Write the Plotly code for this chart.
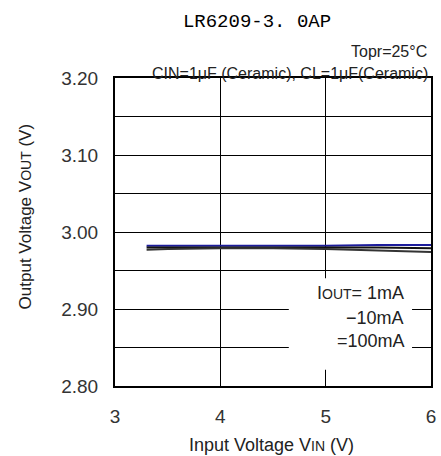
import plotly.graph_objects as go

vin = [3.3, 3.5, 4.0, 4.5, 5.0, 5.5, 6.0]
vout_1ma = [2.982, 2.982, 2.982, 2.982, 2.982, 2.983, 2.983]
vout_10ma = [2.980, 2.980, 2.980, 2.980, 2.980, 2.980, 2.979]
vout_100ma = [2.977, 2.978, 2.979, 2.979, 2.978, 2.976, 2.974]

series = [
    ("1mA", vout_1ma, "#1c1c9c"),
    ("10mA", vout_10ma, "#111111"),
    ("100mA", vout_100ma, "#333333"),
]

fig = go.Figure()
for name, ys, col in series:
    fig.add_trace(go.Scatter(x=vin, y=ys, mode="lines", name=name,
                             line=dict(color=col, width=2), showlegend=False))

sans = "Liberation Sans, Arial, sans-serif"

fig.update_layout(
    width=441, height=456,
    margin=dict(l=115, r=5, t=78, b=70),
    paper_bgcolor="white", plot_bgcolor="white",
    font=dict(family=sans, color="#222222", size=18),
    title=dict(text="LR6209-3. 0AP", x=257 / 441, xanchor="center", y=1 - 20 / 456, yanchor="middle",
               xref="container", yref="container",
               font=dict(family="Liberation Mono, DejaVu Sans Mono, monospace", size=19, color="#000000")),
)

fig.update_xaxes(range=[3, 6], tickvals=[3, 4, 5, 6],
                 showgrid=True, gridcolor="black", gridwidth=1,
                 showline=True, linecolor="black", linewidth=2, mirror=True,
                 zeroline=False, ticks="", ticklabelstandoff=12,
                 tickfont=dict(size=19, color="#333333"))
fig.update_yaxes(range=[2.80, 3.20], tickvals=[2.80, 2.90, 3.00, 3.10, 3.20], tickformat=".2f",
                 showgrid=True, gridcolor="black", gridwidth=1,
                 minor=dict(dtick=0.05, tick0=2.80, showgrid=True, gridcolor="black", gridwidth=1),
                 showline=True, linecolor="black", linewidth=2, mirror=True,
                 zeroline=False, ticks="", ticklabelstandoff=11,
                 tickfont=dict(size=19, color="#333333"))

# white box behind the legend text
fig.add_shape(type="rect", xref="x", yref="y", x0=4.65, x1=5.82, y0=2.821, y1=2.940,
              fillcolor="white", line=dict(width=0), layer="above")


def px(xp):
    return (xp - 115) / 321


def py(yp):
    return (386 - yp) / 308


ann = [
    dict(text="Topr=25°C", x=px(434), y=py(51), xanchor="right", size=16),
    dict(text="CIN=1μF (Ceramic), CL=1μF(Ceramic)", x=px(435), y=py(73), xanchor="right", size=16),
    dict(text="I<span style='font-size:14px'>OUT</span>= 1mA", x=px(411), y=py(293), xanchor="right", size=18),
    dict(text="−10mA", x=px(411), y=py(318), xanchor="right", size=18),
    dict(text="=100mA", x=px(412), y=py(341), xanchor="right", size=18),
    dict(text="Input Voltage V<span style='font-size:14px'>IN</span> (V)", x=px(274), y=py(445),
         xanchor="center", size=18),
]
for a in ann:
    fig.add_annotation(text=a["text"], x=a["x"], y=a["y"], xref="paper", yref="paper",
                       xanchor=a["xanchor"], yanchor="middle", showarrow=False,
                       font=dict(family=sans, size=a["size"], color="#222222"))

fig.add_annotation(text="Output Voltage V<span style='font-size:14px'>OUT</span> (V)",
                   x=px(24), y=py(216), xref="paper", yref="paper",
                   xanchor="center", yanchor="middle", textangle=-90, showarrow=False,
                   font=dict(family=sans, size=17, color="#222222"))

fig.write_html("out.html", config={"displayModeBar": False},
               post_script="document.body.style.margin='0px';")
